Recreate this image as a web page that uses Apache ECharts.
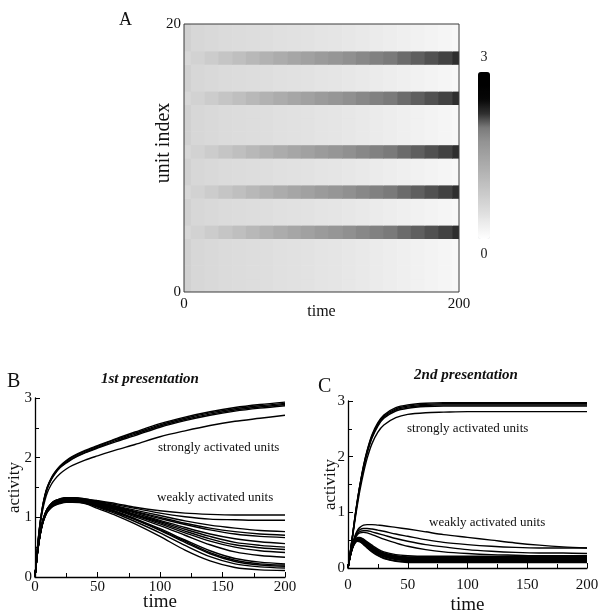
<!DOCTYPE html>
<html>
<head>
<meta charset="utf-8">
<script src="https://cdn.jsdelivr.net/npm/echarts@6/dist/echarts.min.js"></script>
<style>
html,body{margin:0;padding:0;background:#fff;}
#main{width:603px;height:616px;}
</style>
</head>
<body>
<div id="main"></div>
<script>
// ---------- Panel A (heatmap) data ----------
const heatTimes = [0,10,20,30,40,50,60,70,80,90,100,110,120,130,140,150,160,170,180,190,200];
const unitIndex = [0,1,2,3,4,5,6,7,8,9,10,11,12,13,14,15,16,17,18,19];
const strongUnits = [4,7,10,14,17];
const strongHeat = [0.6,0.68,0.78,0.9,1.0,1.12,1.22,1.32,1.42,1.52,1.62,1.7,1.78,1.86,1.93,2.0,2.05,2.09,2.14,2.19,2.26];
const weakHeat   = [0.7,0.6,0.56,0.54,0.52,0.5,0.48,0.46,0.44,0.42,0.4,0.38,0.35,0.32,0.29,0.26,0.23,0.2,0.17,0.14,0.12];
const grayStops = ['#ffffff','#eeeeee','#dddddd','#cecece','#bfbfbf','#b0b0b0','#a2a2a2','#939393','#7a7a7a','#303030','#080808','#000000','#000000'];
const colorbarLabels = ['3','0'];

// ---------- Panels B & C time samples ----------
const T = [0,2,4,6,8,10,13,16,20,25,30,40,50,65,80,100,120,140,160,180,200];

// Panel B: 1st presentation
const bS1 = [0,0.5,0.9,1.18,1.38,1.52,1.66,1.76,1.86,1.95,2.02,2.12,2.2,2.32,2.43,2.57,2.68,2.77,2.84,2.89,2.93];
const bS2 = [0,0.5,0.89,1.17,1.37,1.51,1.65,1.75,1.85,1.94,2.01,2.11,2.19,2.31,2.41,2.55,2.66,2.75,2.82,2.87,2.91];
const bS3 = [0,0.49,0.88,1.16,1.36,1.5,1.64,1.74,1.84,1.92,1.99,2.09,2.17,2.29,2.39,2.53,2.64,2.73,2.8,2.85,2.89];
const bS4 = [0,0.49,0.88,1.15,1.35,1.49,1.63,1.73,1.83,1.91,1.98,2.08,2.16,2.27,2.37,2.51,2.62,2.71,2.78,2.83,2.87];
const bS5 = [0,0.47,0.85,1.11,1.29,1.42,1.55,1.64,1.73,1.81,1.87,1.96,2.03,2.13,2.22,2.35,2.45,2.54,2.61,2.66,2.71];
const bW1 = [0,0.42,0.72,0.93,1.06,1.15,1.23,1.28,1.31,1.33,1.33,1.31,1.28,1.23,1.17,1.11,1.07,1.05,1.04,1.04,1.04];
const bW2 = [0,0.42,0.72,0.93,1.06,1.15,1.23,1.28,1.31,1.33,1.33,1.31,1.27,1.21,1.15,1.07,1.01,0.97,0.96,0.95,0.95];
const bW3 = [0,0.42,0.72,0.92,1.05,1.14,1.22,1.27,1.3,1.32,1.32,1.3,1.26,1.19,1.12,1.03,0.94,0.87,0.82,0.78,0.76];
const bW4 = [0,0.42,0.72,0.92,1.05,1.14,1.22,1.27,1.3,1.32,1.32,1.3,1.25,1.18,1.1,1.0,0.9,0.82,0.76,0.72,0.7];
const bW5 = [0,0.42,0.71,0.92,1.05,1.14,1.21,1.26,1.29,1.31,1.31,1.29,1.25,1.17,1.09,0.98,0.88,0.79,0.72,0.68,0.66];
const bW6 = [0,0.42,0.71,0.91,1.04,1.13,1.21,1.26,1.29,1.31,1.31,1.29,1.24,1.16,1.07,0.95,0.83,0.72,0.64,0.59,0.56];
const bW7 = [0,0.41,0.71,0.91,1.04,1.13,1.2,1.25,1.28,1.3,1.3,1.28,1.23,1.15,1.05,0.93,0.8,0.68,0.58,0.53,0.5];
const bW8 = [0,0.41,0.71,0.91,1.04,1.13,1.2,1.25,1.28,1.3,1.3,1.28,1.23,1.14,1.04,0.91,0.77,0.64,0.54,0.49,0.46];
const bW9 = [0,0.41,0.7,0.9,1.03,1.12,1.19,1.24,1.27,1.29,1.29,1.27,1.22,1.13,1.03,0.89,0.74,0.6,0.5,0.44,0.41];
const bW10 = [0,0.41,0.7,0.9,1.03,1.12,1.19,1.24,1.27,1.29,1.29,1.27,1.21,1.12,1.01,0.86,0.7,0.54,0.42,0.36,0.33];
const bW11 = [0,0.41,0.7,0.9,1.03,1.11,1.18,1.23,1.26,1.28,1.28,1.26,1.2,1.1,0.98,0.81,0.62,0.44,0.31,0.25,0.22];
const bW12 = [0,0.41,0.7,0.9,1.02,1.11,1.18,1.23,1.26,1.28,1.28,1.26,1.19,1.09,0.97,0.79,0.6,0.41,0.28,0.22,0.2];
const bW13 = [0,0.41,0.7,0.89,1.02,1.1,1.17,1.22,1.25,1.27,1.27,1.25,1.18,1.08,0.96,0.78,0.58,0.39,0.26,0.2,0.18];
const bW14 = [0,0.4,0.69,0.89,1.01,1.1,1.17,1.21,1.24,1.26,1.26,1.24,1.17,1.06,0.93,0.74,0.53,0.34,0.22,0.17,0.15];
const bW15 = [0,0.4,0.69,0.88,1.01,1.09,1.16,1.2,1.23,1.25,1.25,1.23,1.15,1.03,0.89,0.68,0.45,0.27,0.16,0.12,0.11];

// Panel C: 2nd presentation
const cS1 = [0,0.3,0.62,0.95,1.24,1.5,1.84,2.11,2.39,2.61,2.75,2.88,2.93,2.96,2.97,2.97,2.97,2.97,2.97,2.97,2.97];
const cS2 = [0,0.3,0.62,0.94,1.23,1.49,1.83,2.1,2.37,2.59,2.73,2.86,2.91,2.94,2.95,2.95,2.95,2.95,2.95,2.95,2.95];
const cS3 = [0,0.29,0.61,0.93,1.22,1.48,1.81,2.08,2.35,2.57,2.71,2.84,2.89,2.92,2.93,2.93,2.93,2.93,2.93,2.93,2.93];
const cS4 = [0,0.29,0.6,0.92,1.2,1.46,1.79,2.06,2.33,2.55,2.69,2.82,2.87,2.9,2.91,2.91,2.91,2.91,2.91,2.91,2.91];
const cS5 = [0,0.28,0.58,0.88,1.15,1.4,1.71,1.97,2.23,2.44,2.57,2.7,2.76,2.79,2.8,2.81,2.81,2.81,2.81,2.81,2.81];
const cW1 = [0,0.25,0.45,0.59,0.68,0.73,0.77,0.78,0.78,0.77,0.76,0.73,0.7,0.65,0.6,0.55,0.5,0.45,0.41,0.38,0.36];
const cW2 = [0,0.25,0.44,0.57,0.65,0.69,0.71,0.71,0.7,0.68,0.66,0.61,0.57,0.51,0.46,0.42,0.39,0.37,0.36,0.36,0.36];
const cW3 = [0,0.25,0.43,0.55,0.62,0.66,0.67,0.67,0.65,0.62,0.59,0.53,0.48,0.42,0.38,0.33,0.3,0.28,0.27,0.27,0.26];
const cW4 = [0,0.24,0.42,0.53,0.6,0.63,0.64,0.63,0.6,0.56,0.52,0.45,0.39,0.33,0.29,0.26,0.24,0.23,0.22,0.22,0.22];
const cW5 = [0,0.24,0.41,0.51,0.55,0.55,0.52,0.47,0.41,0.34,0.29,0.24,0.22,0.21,0.21,0.21,0.21,0.21,0.21,0.21,0.21];
const cW6 = [0,0.24,0.4,0.5,0.54,0.54,0.51,0.46,0.39,0.32,0.27,0.22,0.2,0.2,0.2,0.2,0.2,0.2,0.2,0.2,0.2];
const cW7 = [0,0.24,0.4,0.5,0.53,0.53,0.5,0.45,0.38,0.31,0.26,0.21,0.19,0.19,0.19,0.19,0.19,0.19,0.19,0.19,0.19];
const cW8 = [0,0.23,0.39,0.49,0.53,0.52,0.49,0.44,0.37,0.3,0.25,0.2,0.18,0.18,0.18,0.18,0.18,0.18,0.18,0.18,0.18];
const cW9 = [0,0.23,0.39,0.49,0.52,0.52,0.48,0.43,0.36,0.29,0.24,0.19,0.17,0.17,0.17,0.17,0.17,0.17,0.17,0.17,0.17];
const cW10 = [0,0.23,0.39,0.48,0.51,0.51,0.47,0.42,0.35,0.28,0.23,0.18,0.16,0.16,0.16,0.16,0.16,0.16,0.16,0.16,0.16];
const cW11 = [0,0.23,0.38,0.48,0.51,0.5,0.46,0.41,0.34,0.27,0.22,0.17,0.15,0.15,0.15,0.15,0.15,0.15,0.15,0.15,0.15];
const cW12 = [0,0.23,0.38,0.47,0.5,0.49,0.45,0.4,0.33,0.26,0.21,0.16,0.14,0.14,0.14,0.14,0.14,0.14,0.14,0.14,0.14];
const cW13 = [0,0.22,0.38,0.47,0.5,0.49,0.44,0.39,0.32,0.25,0.2,0.15,0.13,0.13,0.13,0.13,0.13,0.13,0.13,0.13,0.13];
const cW14 = [0,0.22,0.37,0.46,0.49,0.48,0.43,0.37,0.3,0.23,0.18,0.13,0.12,0.12,0.12,0.12,0.12,0.12,0.12,0.12,0.12];
const cW15 = [0,0.22,0.37,0.45,0.48,0.47,0.42,0.36,0.29,0.22,0.17,0.12,0.1,0.1,0.1,0.1,0.1,0.1,0.1,0.1,0.1];

const panelBLines = [bS1,bS2,bS3,bS4,bS5,bW1,bW2,bW3,bW4,bW5,bW6,bW7,bW8,bW9,bW10,bW11,bW12,bW13,bW14,bW15];
const panelCLines = [cS1,cS2,cS3,cS4,cS5,cW1,cW2,cW3,cW4,cW5,cW6,cW7,cW8,cW9,cW10,cW11,cW12,cW13,cW14,cW15];

const timeStep = 10;
const FONT = "'Liberation Serif','DejaVu Serif',serif";

// build heatmap data
const heatData = [];
unitIndex.forEach(u => {
  const row = strongUnits.indexOf(u) >= 0 ? strongHeat : weakHeat;
  heatTimes.forEach((t, i) => heatData.push([t, u, row[i]]));
});

function renderCell(params, api) {
  const t = api.value(0), u = api.value(1);
  const p0 = api.coord([t - timeStep / 2, u + 1]);
  const p1 = api.coord([t + timeStep / 2, u]);
  const cs = params.coordSys;
  const rect = echarts.graphic.clipRectByRect(
    {x: p0[0], y: p0[1], width: p1[0] - p0[0] + 0.6, height: p1[1] - p0[1] + 0.6},
    {x: cs.x, y: cs.y, width: cs.width, height: cs.height}
  );
  return rect && {type: 'rect', shape: rect, style: {fill: api.visual('color')}};
}

function lineSeries(arr, axisIdx) {
  return {
    type: 'line', xAxisIndex: axisIdx, yAxisIndex: axisIdx,
    data: T.map((t, i) => [t, arr[i]]),
    showSymbol: false, symbol: 'none', smooth: 0.3,
    lineStyle: {color: '#000', width: 1.4},
    silent: true, z: 3
  };
}

const axisTxt = {fontFamily: FONT, color: '#111'};
const tickCommon = {
  axisLine: {lineStyle: {color: '#000', width: 1.3}},
  axisTick: {inside: true, length: 5, lineStyle: {color: '#000'}},
  minorTick: {show: true, splitNumber: 2, length: 4, lineStyle: {color: '#000'}},
  splitLine: {show: false},
  nameMoveOverlap: false
};

const option = {
  backgroundColor: '#fff',
  animation: false,
  title: [
    {text: 'A', left: 114, top: 6, textStyle: {fontFamily: FONT, fontSize: 18, fontWeight: 'normal', color: '#111'}},
    {text: 'B', left: 2, top: 367, textStyle: {fontFamily: FONT, fontSize: 20, fontWeight: 'normal', color: '#111'}},
    {text: 'C', left: 313, top: 372, textStyle: {fontFamily: FONT, fontSize: 20, fontWeight: 'normal', color: '#111'}},
    {text: '1st presentation', left: 145, top: 367, textAlign: 'center', textStyle: {fontFamily: FONT, fontSize: 15, fontWeight: 'bold', fontStyle: 'italic', color: '#111'}},
    {text: '2nd presentation', left: 461, top: 363, textAlign: 'center', textStyle: {fontFamily: FONT, fontSize: 15, fontWeight: 'bold', fontStyle: 'italic', color: '#111'}}
  ],
  grid: [
    {left: 184, top: 24, width: 275, height: 268, show: true, borderColor: '#3a3a3a', borderWidth: 1, backgroundColor: 'transparent', z: 10},
    {left: 35, top: 398, width: 250, height: 179},
    {left: 348, top: 401, width: 239, height: 169}
  ],
  xAxis: [
    {gridIndex: 0, type: 'value', min: 0, max: 200, interval: 200,
     axisLine: {show: false}, axisTick: {show: false}, splitLine: {show: false},
     axisLabel: Object.assign({fontSize: 15, margin: 5}, axisTxt),
     nameMoveOverlap: false,
     name: 'time', nameLocation: 'middle', nameGap: 12, nameTextStyle: Object.assign({fontSize: 16}, axisTxt)},
    Object.assign({gridIndex: 1, type: 'value', min: 0, max: 200, interval: 50,
     axisLabel: Object.assign({fontSize: 15, margin: 3}, axisTxt),
     name: 'time', nameLocation: 'middle', nameGap: 16, nameTextStyle: Object.assign({fontSize: 19}, axisTxt)}, tickCommon),
    Object.assign({gridIndex: 2, type: 'value', min: 0, max: 200, interval: 50,
     axisLabel: Object.assign({fontSize: 15, margin: 10}, axisTxt),
     name: 'time', nameLocation: 'middle', nameGap: 28, nameTextStyle: Object.assign({fontSize: 19}, axisTxt)}, tickCommon)
  ],
  yAxis: [
    {gridIndex: 0, type: 'value', min: 0, max: 20, interval: 20,
     axisLine: {show: false}, axisTick: {show: false}, splitLine: {show: false},
     axisLabel: Object.assign({fontSize: 15, margin: 3}, axisTxt)},
    Object.assign({gridIndex: 1, type: 'value', min: 0, max: 3, interval: 1,
     axisLabel: Object.assign({fontSize: 15, margin: 3}, axisTxt),
     name: 'activity', nameLocation: 'middle', nameGap: 12, nameTextStyle: Object.assign({fontSize: 17}, axisTxt)}, tickCommon),
    Object.assign({gridIndex: 2, type: 'value', min: 0, max: 3, interval: 1,
     axisLabel: Object.assign({fontSize: 15, margin: 3}, axisTxt),
     name: 'activity', nameLocation: 'middle', nameGap: 9, nameTextStyle: Object.assign({fontSize: 17}, axisTxt)}, tickCommon)
  ],
  visualMap: {
    type: 'continuous', min: 0, max: 3, seriesIndex: 0, dimension: 2,
    orient: 'vertical', left: 478, top: 50, itemWidth: 12, itemHeight: 167,
    text: colorbarLabels, textGap: 8, padding: 0,
    calculable: false, hoverLink: false, realtime: false,
    inRange: {color: grayStops},
    textStyle: {fontFamily: FONT, fontSize: 14, color: '#222'}
  },
  graphic: [
    {type: 'text', x: 164, y: 143, rotation: Math.PI / 2, style: {text: 'unit index', font: "20px 'Liberation Serif', serif", fill: '#111', align: 'center', verticalAlign: 'middle'}},
    {type: 'text', left: 158, top: 441, style: {text: 'strongly activated units', font: "13px 'Liberation Serif', serif", fill: '#111'}},
    {type: 'text', left: 157, top: 491, style: {text: 'weakly activated units', font: "13px 'Liberation Serif', serif", fill: '#111'}},
    {type: 'text', left: 407, top: 422, style: {text: 'strongly activated units', font: "13px 'Liberation Serif', serif", fill: '#111'}},
    {type: 'text', left: 429, top: 516, style: {text: 'weakly activated units', font: "13px 'Liberation Serif', serif", fill: '#111'}}
  ],
  series: [
    {type: 'custom', xAxisIndex: 0, yAxisIndex: 0, renderItem: renderCell,
     data: heatData, encode: {x: 0, y: 1}, silent: true, z: 2}
  ]
    .concat(panelBLines.map(a => lineSeries(a, 1)))
    .concat(panelCLines.map(a => lineSeries(a, 2)))
};

const chart = echarts.init(document.getElementById('main'), null, {renderer: 'canvas'});
chart.setOption(option);
</script>
</body>
</html>
